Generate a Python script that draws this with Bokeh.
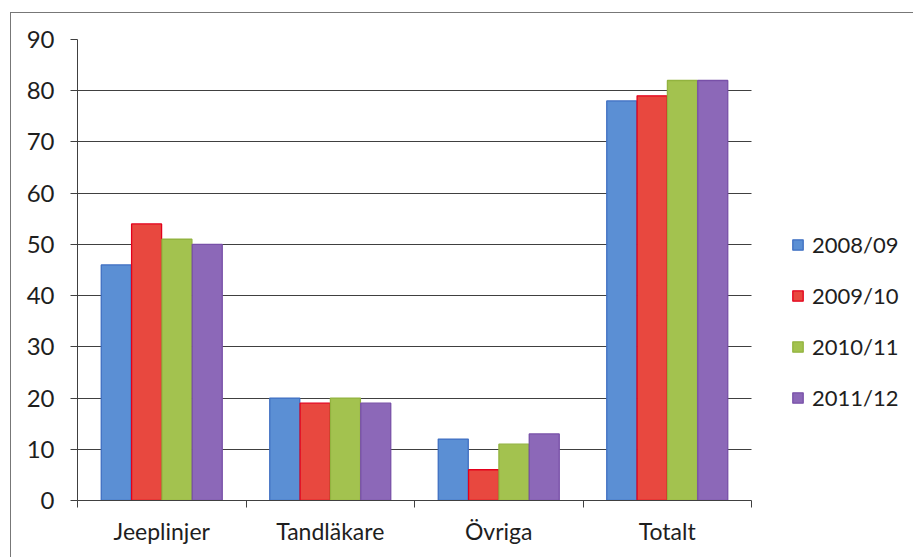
from bokeh.plotting import figure
from bokeh.models import (Range1d, FixedTicker, ColumnDataSource, Legend, LegendItem)
from bokeh.transform import dodge
from bokeh.embed import file_html
from bokeh.resources import INLINE

categories = ["Jeeplinjer", "Tandläkare", "Övriga", "Totalt"]
years = ["2008/09", "2009/10", "2010/11", "2011/12"]
v_2008_09 = [46, 20, 12, 78]
v_2009_10 = [54, 19, 6, 79]
v_2010_11 = [51, 20, 11, 82]
v_2011_12 = [50, 19, 13, 82]
y_ticks = [0, 10, 20, 30, 40, 50, 60, 70, 80, 90]

fills = ["#5b8fd4", "#e8483f", "#a3c24f", "#8c68b8"]
edges = ["#3f6fc2", "#e3001b", "#92b33f", "#7850a8"]
offsets = [-0.27, -0.09, 0.09, 0.27]
FONT = "Lato"
TXT = "#1e1e1e"
GRID = "#404040"

n = len(categories)
centers = [i + 0.5 for i in range(n)]
bounds = list(range(n + 1))
src = ColumnDataSource(dict(xc=centers, a=v_2008_09, b=v_2009_10,
                            c=v_2010_11, d=v_2011_12))

# layout: category area is 674px wide, the frame continues to the right
# so the legend can sit next to the bars
W, LEFT = 903, 66
CAT_PX = 674
x_end = n * (W - LEFT) / CAT_PX

p = figure(x_range=Range1d(0, x_end), y_range=Range1d(0, 90),
           width=W, height=545, output_backend="svg", toolbar_location=None,
           min_border_left=LEFT, min_border_right=0, min_border_top=26,
           min_border_bottom=58)
p.margin = (12, 0, 0, 10)
p.styles = {"border-top": "1px solid #777", "border-left": "1px solid #777"}
p.outline_line_color = None
p.background_fill_color = "white"
p.border_fill_color = "white"

renderers = []
for col, off, f, e in zip(["a", "b", "c", "d"], offsets, fills, edges):
    r = p.vbar(x=dodge("xc", off), top=col, width=0.178,
               source=src, fill_color=f, line_color=e, line_width=1.3)
    renderers.append(r)

# y axis
yax = p.yaxis[0]
yax.ticker = FixedTicker(ticks=y_ticks)
yax.axis_line_color = GRID
yax.major_tick_line_color = GRID
yax.major_tick_out = 7
yax.major_tick_in = 0
yax.minor_tick_line_color = None
yax.major_label_text_font = FONT
yax.major_label_text_font_size = "24px"
yax.major_label_text_color = TXT
yax.major_label_standoff = 16
p.ygrid.ticker = FixedTicker(ticks=y_ticks)
p.ygrid.grid_line_color = GRID
p.ygrid.grid_line_width = 1
p.ygrid.cross_bounds = (0, n)
p.xgrid.visible = False

# x axis: labels at category centres, tick marks at category boundaries
xax = p.xaxis[0]
xax.bounds = (0, n)
xax.ticker = FixedTicker(ticks=centers, minor_ticks=bounds)
xax.major_label_overrides = {c: name for c, name in zip(centers, categories)}
xax.axis_line_color = GRID
xax.major_tick_line_color = None
xax.major_tick_out = 7
xax.major_tick_in = 0
xax.minor_tick_line_color = GRID
xax.minor_tick_out = 7
xax.minor_tick_in = 0
xax.major_label_text_font = FONT
xax.major_label_text_font_size = "23px"
xax.major_label_text_color = TXT
xax.major_label_standoff = 9

legend = Legend(items=[LegendItem(label=y, renderers=[r]) for y, r in zip(years, renderers)],
                location=(714, 88))
legend.border_line_color = None
legend.background_fill_alpha = 0
legend.padding = 0
legend.margin = 0
legend.glyph_width = 13
legend.glyph_height = 13
legend.label_standoff = 8
legend.label_height = 29
legend.spacing = 22
legend.label_text_font = FONT
legend.label_text_font_size = "22px"
legend.label_text_color = TXT
p.add_layout(legend, "center")

open("out.html", "w").write(file_html(p, INLINE))
